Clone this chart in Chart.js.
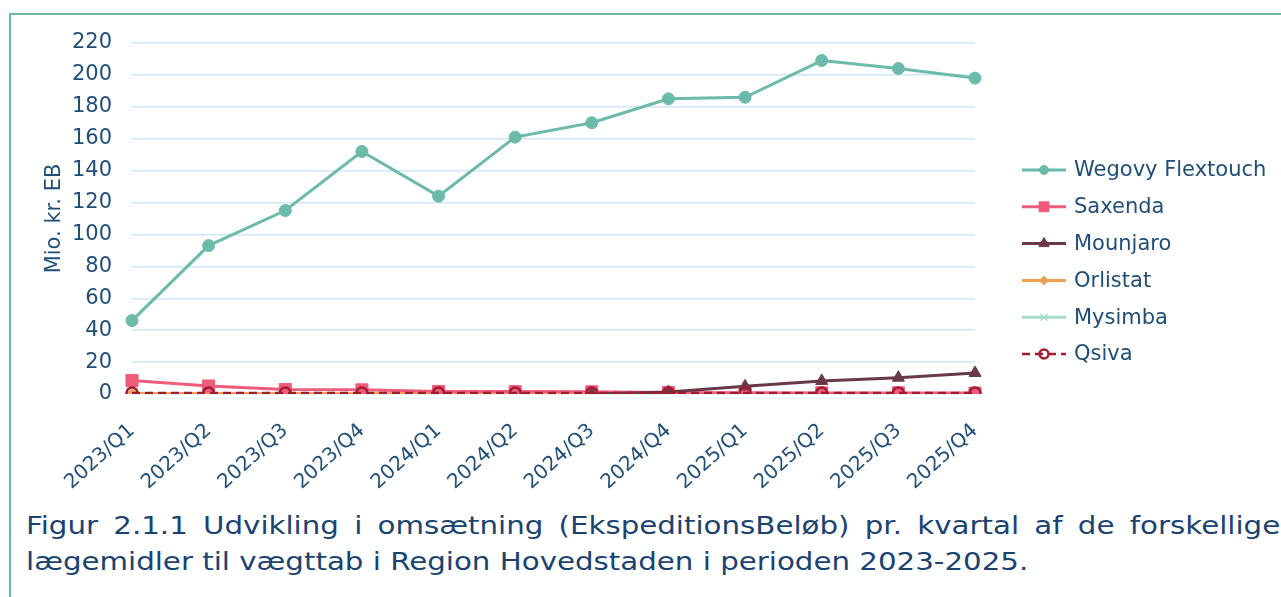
<!DOCTYPE html>
<html>
<head>
<meta charset="utf-8">
<script src="https://cdn.jsdelivr.net/npm/chart.js@4/dist/chart.umd.min.js"></script>
<style>
html,body{margin:0;padding:0;background:#fff;width:1281px;height:597px;overflow:hidden;font-family:"DejaVu Sans",Verdana,sans-serif}
#frame{position:absolute;left:9px;top:13px;width:1272px;height:600px;border-left:2px solid #6bb8ac;border-top:2px solid #6bb8ac}
#wrap{position:absolute;left:0;top:0;width:1281px;height:500px}
#caption{position:absolute;left:26px;top:508px;width:1028px;font-size:24px;line-height:36px;color:#1a4372;text-align:justify;text-align-last:left;transform:scaleX(1.22);transform-origin:0 0}
</style>
</head>
<body>
<div id="frame"></div>
<div id="wrap"><canvas id="c"></canvas></div>
<div id="caption">Figur 2.1.1 Udvikling i omsætning (EkspeditionsBeløb) pr. kvartal af de forskellige lægemidler til vægttab i Region Hovedstaden i perioden 2023-2025.</div>
<script>
// kvartaler og omsætning (mio. kr. EB)
const quarters=['2023/Q1','2023/Q2','2023/Q3','2023/Q4','2024/Q1','2024/Q2','2024/Q3','2024/Q4','2025/Q1','2025/Q2','2025/Q3','2025/Q4'];
const wegovy=[46,93,115,152,124,161,170,185,186,209,204,198];
const saxenda=[8.5,5,2.8,2.6,1.6,1.5,1.4,0.9,0.8,0.7,0.7,0.6];
const mounjaro=[null,null,null,null,null,null,0,1.2,4.8,8.2,10.2,13.2];
const orlistat=[0.3,0.3,0.3,0.3,0.3,0.3,0.3,0.3,0.3,0.3,0.3,0.3];
const mysimba=[0,0,0,0,0,0,0,0,0,0,0,0];
const qsiva=[0.6,0.6,0.6,0.6,0.6,0.6,0.6,0.6,0.6,0.6,0.6,0.6];
const yTicks=[0,20,40,60,80,100,120,140,160,180,200,220];

const TXT='#1f4e79';
const FONT='"DejaVu Sans", Verdana, sans-serif';

// egen forklaring: linje + markør som i Excel
const legendPlugin={
  id:'xlLegend',
  afterDraw(chart){
    const ctx=chart.ctx;
    chart.data.datasets.forEach((ds,i)=>{
      const y=170+i*36.8;
      ctx.save();
      ctx.strokeStyle=ds.borderColor;
      ctx.lineWidth=ds.borderWidth;
      ctx.setLineDash(ds.borderDash||[]);
      ctx.beginPath();ctx.moveTo(1022,y);ctx.lineTo(1066,y);ctx.stroke();
      ctx.setLineDash([]);
      ctx.fillStyle=ds.pointBackgroundColor;
      ctx.strokeStyle=ds.pointBorderColor;
      ctx.lineWidth=ds.pointBorderWidth;
      Chart.helpers.drawPoint(ctx,{pointStyle:ds.pointStyle,radius:ds.legendRadius,borderWidth:ds.pointBorderWidth,rotation:0},1044,y);
      ctx.fillStyle=TXT;
      ctx.font='21px '+FONT;
      ctx.textBaseline='middle';
      ctx.fillText(ds.label,1074,y+1);
      ctx.restore();
    });
  }
};

function line(label,data,color,style,extra){
  return Object.assign({
    label,data,borderColor:color,borderWidth:3,
    pointStyle:style,pointRadius:6,legendRadius:4.5,pointBackgroundColor:color,pointBorderColor:color,pointBorderWidth:1,
    tension:0,spanGaps:false
  },extra||{});
}

new Chart(document.getElementById('c'),{
  type:'line',
  data:{
    labels:quarters,
    datasets:[
      line('Wegovy Flextouch',wegovy,'#6cbaa9','circle',{order:0,pointRadius:6,legendRadius:4.5}),
      line('Saxenda',saxenda,'#ef5b7b','rect',{order:3,pointRadius:8.5,legendRadius:7}),
      line('Mounjaro',mounjaro,'#6a3848','triangle',{order:2,pointRadius:7,legendRadius:6}),
      line('Orlistat',orlistat,'#f0a050','rectRot',{order:4,pointRadius:5,legendRadius:4.5}),
      line('Mysimba',mysimba,'#a6dccc','crossRot',{order:5,pointRadius:5,legendRadius:5,pointBorderWidth:1.5}),
      line('Qsiva',qsiva,'#a01c30','circle',{order:1,borderWidth:2.5,borderDash:[8,5],pointRadius:5.5,legendRadius:4.5,pointBackgroundColor:'rgba(255,255,255,0)',pointBorderWidth:2.5})
    ]
  },
  options:{
    responsive:true,maintainAspectRatio:false,animation:false,
    layout:{padding:{top:43,right:306,left:0,bottom:0}},
    plugins:{legend:{display:false},tooltip:{enabled:false}},
    scales:{
      x:{
        grid:{display:false},border:{display:false},
        ticks:{color:TXT,font:{family:FONT,size:20},minRotation:42,maxRotation:42,padding:17},
        afterFit(s){s.height=106;}
      },
      y:{
        min:0,max:220,
        grid:{color:'#cfe6fa',lineWidth:1.5,drawTicks:false},border:{display:false},
        afterBuildTicks(s){s.ticks=yTicks.map(v=>({value:v}));},
        ticks:{color:TXT,font:{family:FONT,size:21},padding:20},
        title:{display:true,text:'Mio. kr. EB',color:TXT,font:{family:FONT,size:21},padding:{top:42,bottom:0}},
        afterFit(s){s.width=132;}
      }
    }
  },
  plugins:[legendPlugin]
});
</script>
</body>
</html>
